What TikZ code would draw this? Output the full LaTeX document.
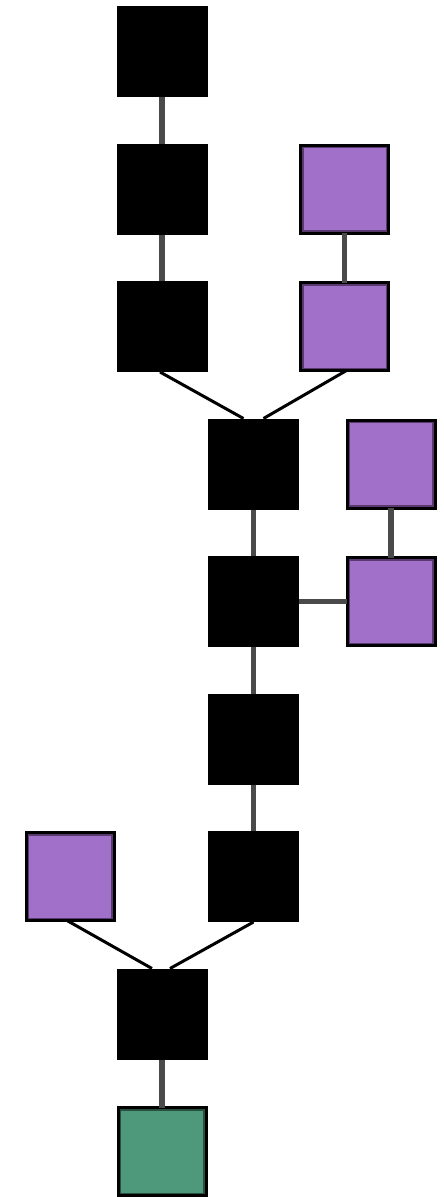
\documentclass[tikz,border=0pt]{standalone}
\usepackage{tikz}
\definecolor{vioFill}{RGB}{161,112,200}
\definecolor{vioEdge}{RGB}{88,58,110}
\definecolor{grnFill}{RGB}{78,152,123}
\definecolor{grnEdge}{RGB}{40,80,64}
\definecolor{linkGray}{RGB}{74,74,74}
\tikzset{
  blk/.style={rectangle,fill=black,minimum size=91pt,inner sep=0pt,outer sep=0pt},
  rim/.style={path picture={\draw[#1,line width=6pt] (path picture bounding box.south west) rectangle (path picture bounding box.north east);}},
  vio/.style={rectangle,fill=vioFill,rim=vioEdge,draw=black,line width=3pt,minimum size=88pt,inner sep=0pt,outer sep=0pt},
  grn/.style={rectangle,fill=grnFill,rim=grnEdge,draw=black,line width=3pt,minimum size=88pt,inner sep=0pt,outer sep=0pt},
  stem/.style={draw=linkGray,line width=5.5pt},
  slant/.style={draw=black,line width=3pt}
}

\begin{document}
\begin{tikzpicture}[x=1pt,y=-1pt]
\useasboundingbox[fill=white] (0,0) rectangle (444,1197);
\node[blk] (a1) at (162,51.5) {};
\node[blk] (a2) at (162,189) {};
\node[blk] (a3) at (162,326.5) {};
\node[vio] (c2) at (344.5,189) {};
\node[vio] (c3) at (344.5,326.5) {};
\node[blk] (b4) at (253.5,464) {};
\node[blk] (b5) at (253.5,601.5) {};
\node[blk] (b6) at (253.5,739) {};
\node[blk] (b7) at (253.5,876.5) {};
\node[vio] (d4) at (391,464) {};
\node[vio] (d5) at (391,601.5) {};
\node[vio] (l7) at (70,876.5) {};
\node[blk] (a8) at (162,1014) {};
\node[grn] (g9) at (162,1151.5) {};
\draw[stem] (a1.south) -- (a2.north);
\draw[stem] (a2.south) -- (a3.north);
\draw[stem] (c2.south) -- (c3.north);
\draw[slant] ([xshift=-2pt]a3.south) -- ([xshift=-10pt]b4.north);
\draw[slant] ([xshift=2pt]c3.south) -- ([xshift=10pt]b4.north);
\draw[stem] (b4.south) -- (b5.north);
\draw[stem] (d4.south) -- (d5.north);
\draw[stem] (b5.east) -- (d5.west);
\draw[stem] (b5.south) -- (b6.north);
\draw[stem] (b6.south) -- (b7.north);
\draw[slant] ([xshift=-3pt]l7.south) -- ([xshift=-10pt]a8.north);
\draw[slant] (b7.south) -- ([xshift=8pt]a8.north);
\draw[stem] (a8.south) -- (g9.north);
\end{tikzpicture}
\end{document}
